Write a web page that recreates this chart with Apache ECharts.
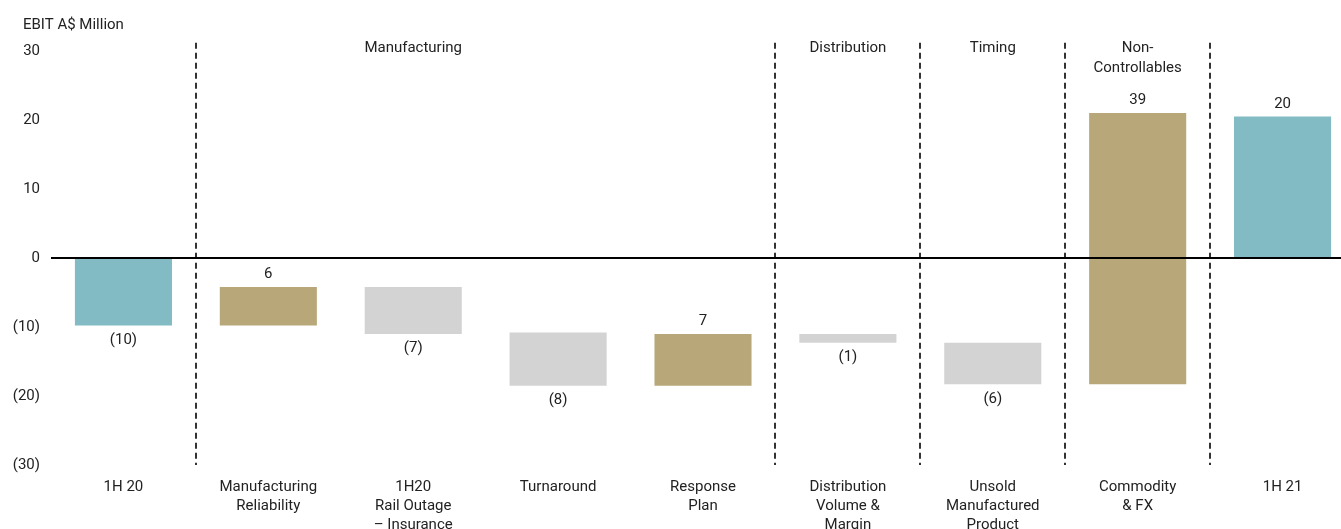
<!DOCTYPE html>
<html>
<head>
<meta charset="utf-8">
<script src="https://cdn.jsdelivr.net/npm/echarts@6/dist/echarts.min.js"></script>
<style>
  html, body { margin: 0; padding: 0; background: #fff; }
  #chart { width: 1341px; height: 529px; }
</style>
</head>
<body>
<div id="chart"></div>
<script>
  // waterfall: each bar runs from barStart to barEnd (A$ million)
  const categories = [
    '1H 20', 'Manufacturing\nReliability', '1H20\nRail Outage\n– Insurance', 'Turnaround',
    'Response\nPlan', 'Distribution\nVolume &\nMargin', 'Unsold\nManufactured\nProduct',
    'Commodity\n& FX', '1H 21'
  ]
  const barStart = [0, -9.8, -4.2, -10.8, -18.5, -11.0, -12.3, -18.3, 0]
  const barEnd = [-9.8, -4.2, -11.0, -18.5, -11.0, -12.3, -18.3, 21.0, 20.5]
  const barLabels = ['(10)', '6', '(7)', '(8)', '7', '(1)', '(6)', '39', '20']
  const yTicks = [-30, -20, -10, 0, 10, 20, 30]
  // group headers sit above a category, dividers fall after a category
  const sectionNames = ['Manufacturing', 'Distribution', 'Timing', 'Non-\nControllables']
  const sectionAt = [2, 5, 6, 7]
  const dividerAfter = [0, 4, 5, 6, 7]

  const FONT = "Roboto, 'Noto Sans', sans-serif"
  const FS = 15
  const colors = { total: '#82bbc3', up: '#b8a778', down: '#d3d3d3' }

  const chart = echarts.init(document.getElementById('chart'))

  chart.setOption({
    animation: false,
    textStyle: { fontFamily: FONT },
    title: {
      text: 'EBIT A$ Million',
      left: 18,
      top: 13,
      textStyle: { fontFamily: FONT, fontSize: FS, fontWeight: 'normal', color: '#222' },
    },
    grid: { left: 51, right: -14, top: 51, bottom: 64, outerBoundsMode: 'none', containLabel: false },
    xAxis: {
      type: 'category',
      data: categories,
      axisLine: { show: false, onZero: false },
      axisTick: { show: false },
      axisLabel: { interval: 0, margin: 13, fontSize: FS, lineHeight: 19, color: '#222', verticalAlign: 'top' },
      splitLine: { show: false },
    },
    yAxis: {
      type: 'value',
      min: yTicks[0],
      max: yTicks[yTicks.length - 1],
      interval: 10,
      axisLine: { show: false },
      axisTick: { show: false },
      splitLine: { show: false },
      axisLabel: {
        margin: 11,
        fontSize: FS,
        color: '#222',
        formatter: (v) => (v < 0 ? '(' + (-v) + ')' : String(v)),
      },
    },
    series: [
      {
        type: 'custom',
        name: 'dividers',
        silent: true,
        data: dividerAfter.map((i) => [i]),
        renderItem(params, api) {
          const i = api.value(0)
          const half = api.size([1, 0])[0] / 2
          const top = api.coord([i, 31.2])
          const bot = api.coord([i, -30])
          const x = Math.round(top[0] + half)
          return {
            type: 'line',
            shape: { x1: x, y1: top[1], x2: x, y2: bot[1] },
            style: { stroke: '#333', lineWidth: 2, lineDash: [6, 4] },
          }
        },
      },
      {
        type: 'custom',
        name: 'waterfall',
        silent: true,
        data: categories.map((c, i) => [i, barStart[i], barEnd[i]]),
        renderItem(params, api) {
          const i = params.dataIndex
          const s = api.value(1)
          const e = api.value(2)
          const a = api.coord([i, s])
          const b = api.coord([i, e])
          const w = api.size([1, 0])[0] * 0.67
          const isTotal = i === 0 || i === categories.length - 1
          const up = e > s
          const color = isTotal ? colors.total : (up ? colors.up : colors.down)
          const yTop = Math.min(a[1], b[1])
          const yBot = Math.max(a[1], b[1])
          return {
            type: 'group',
            children: [
              {
                type: 'rect',
                shape: { x: a[0] - w / 2, y: yTop, width: w, height: yBot - yTop },
                style: { fill: color },
              },
              {
                type: 'text',
                x: a[0],
                y: up ? yTop - 5 : yBot + 7,
                style: {
                  text: barLabels[i],
                  align: 'center',
                  verticalAlign: up ? 'bottom' : 'top',
                  font: FS + 'px ' + FONT,
                  fill: '#222',
                },
              },
            ],
          }
        },
        markLine: {
          silent: true,
          symbol: 'none',
          label: { show: false },
          lineStyle: { color: '#000', width: 2, type: 'solid' },
          data: [{ yAxis: 0 }],
        },
      },
      {
        type: 'custom',
        name: 'sections',
        silent: true,
        data: sectionAt.map((i) => [i]),
        renderItem(params, api) {
          const p = api.coord([api.value(0), 30])
          return {
            type: 'text',
            x: p[0],
            y: p[1] - 13,
            style: {
              text: sectionNames[params.dataIndex],
              align: 'center',
              verticalAlign: 'top',
              lineHeight: 20,
              font: FS + 'px ' + FONT,
              fill: '#222',
            },
          }
        },
      },
    ],
  })
</script>
</body>
</html>
